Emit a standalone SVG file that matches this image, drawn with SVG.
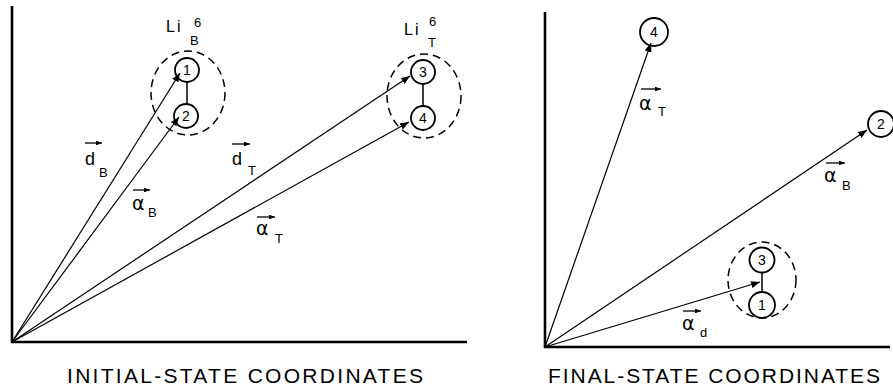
<svg xmlns="http://www.w3.org/2000/svg" width="893" height="386" viewBox="0 0 893 386">
<defs>
<marker id="ah" viewBox="0 0 10 8" refX="10" refY="4" markerWidth="9" markerHeight="7.2" orient="auto" markerUnits="userSpaceOnUse"><path d="M0,0 L10,4 L0,8 z" fill="#000"/></marker>
<marker id="sh" viewBox="0 0 10 8" refX="10" refY="4" markerWidth="6" markerHeight="4.8" orient="auto" markerUnits="userSpaceOnUse"><path d="M0,0 L10,4 L0,8 z" fill="#000"/></marker>
</defs>
<style>
.axis{fill:none;stroke:#000;stroke-width:2.6}
.vec{fill:none;stroke:#000;stroke-width:1.2;marker-end:url(#ah)}
.atom{fill:#fff;stroke:#000;stroke-width:1.8}
.bond{stroke:#000;stroke-width:1.5}
.nuc{fill:none;stroke:#000;stroke-width:1.5;stroke-dasharray:8,5}
.num{font-family:"Liberation Sans",Arial,sans-serif;font-size:14px;text-anchor:middle;fill:#000}
.sym{font-family:"Liberation Sans",Arial,sans-serif;font-size:18px;fill:#000}
.alpha{font-family:"DejaVu Sans","Liberation Sans",sans-serif;font-size:19px;fill:#000}
.sub{font-family:"Liberation Sans",Arial,sans-serif;font-size:13px;fill:#000}
.ov{stroke:#000;stroke-width:1.3;marker-end:url(#sh)}
.li{font-family:"Liberation Sans",Arial,sans-serif;font-size:16px;letter-spacing:2px;fill:#000}
.cap{font-family:"Liberation Sans",Arial,sans-serif;font-size:21px;fill:#000}
</style>
<rect width="893" height="386" fill="#fff"/>

<g id="axes">
<path class="axis" d="M12,6 V342 H467"/>
<path class="axis" d="M545,12 V347 H890"/>
</g>

<g id="connectors">
<path class="vec" d="M12,342 L180,73"/>
<path class="vec" d="M12,342 L179,117"/>
<path class="vec" d="M12,342 L410,76"/>
<path class="vec" d="M12,342 L409,122"/>
<path class="vec" d="M545,347 L651,43"/>
<path class="vec" d="M545,347 L867,130"/>
<path class="vec" d="M545,347 L760,282"/>
</g>

<g id="LiB">
<ellipse class="nuc" cx="188" cy="93" rx="37" ry="42"/>
<line class="bond" x1="187" y1="82" x2="187" y2="104"/>
<g id="atomB1"><circle class="atom" cx="187" cy="70" r="12" fill-opacity="0"/><text class="num" x="187" y="75">1</text></g>
<g id="atomB2"><circle class="atom" cx="186" cy="116" r="12" fill-opacity="0"/><text class="num" x="186" y="121">2</text></g>
<text class="li" x="166" y="32">Li</text>
<text class="sub" x="194" y="27">6</text>
<text class="sub" x="190" y="45">B</text>
</g>

<g id="LiT">
<ellipse class="nuc" cx="424" cy="96" rx="37" ry="42"/>
<line class="bond" x1="423" y1="84" x2="423" y2="106"/>
<g id="atomT3"><circle class="atom" cx="423" cy="72" r="12" fill-opacity="0"/><text class="num" x="423" y="77">3</text></g>
<g id="atomT4"><circle class="atom" cx="423" cy="118" r="12" fill-opacity="0"/><text class="num" x="423" y="123">4</text></g>
<text class="li" x="404" y="35">Li</text>
<text class="sub" x="429" y="26">6</text>
<text class="sub" x="428" y="47">T</text>
</g>

<g id="final4">
<circle class="atom" cx="654" cy="32" r="14" fill-opacity="0"/><text class="num" x="654" y="37">4</text>
</g>
<g id="final2">
<circle class="atom" cx="881" cy="124" r="13" fill-opacity="0"/><text class="num" x="881" y="129">2</text>
</g>
<g id="final31">
<ellipse class="nuc" cx="762" cy="280" rx="34" ry="38"/>
<line class="bond" x1="762" y1="272" x2="762" y2="292"/>
<g id="atomF3"><circle class="atom" cx="762" cy="260" r="12.5" fill-opacity="0"/><text class="num" x="762" y="265">3</text></g>
<g id="atomF1"><circle class="atom" cx="762" cy="305" r="13" fill-opacity="0"/><text class="num" x="762" y="310">1</text></g>
</g>

<g id="labels">
<line class="ov" x1="85" y1="143" x2="102" y2="143"/>
<text class="sym" x="85" y="165">d</text><text class="sub" x="99" y="177">B</text>

<line class="ov" x1="133" y1="190" x2="150" y2="190"/>
<text class="alpha" x="132" y="210">α</text><text class="sub" x="148" y="217">B</text>

<line class="ov" x1="232" y1="144" x2="250" y2="144"/>
<text class="sym" x="232" y="165">d</text><text class="sub" x="248" y="175">T</text>

<line class="ov" x1="257" y1="217" x2="275" y2="217"/>
<text class="alpha" x="256" y="235">α</text><text class="sub" x="275" y="243">T</text>

<line class="ov" x1="641" y1="89" x2="661" y2="89"/>
<text class="alpha" x="639" y="110">α</text><text class="sub" x="658" y="116">T</text>

<line class="ov" x1="826" y1="163" x2="845" y2="163"/>
<text class="alpha" x="824" y="182">α</text><text class="sub" x="842" y="190">B</text>

<line class="ov" x1="683" y1="311" x2="701" y2="311"/>
<text class="alpha" x="682" y="330">α</text><text class="sub" x="700" y="337">d</text>

<text class="cap" x="67" y="383" textLength="356" lengthAdjust="spacing">INITIAL-STATE COORDINATES</text>
<text class="cap" x="548" y="383" textLength="332" lengthAdjust="spacing">FINAL-STATE COORDINATES</text>
</g>
</svg>
